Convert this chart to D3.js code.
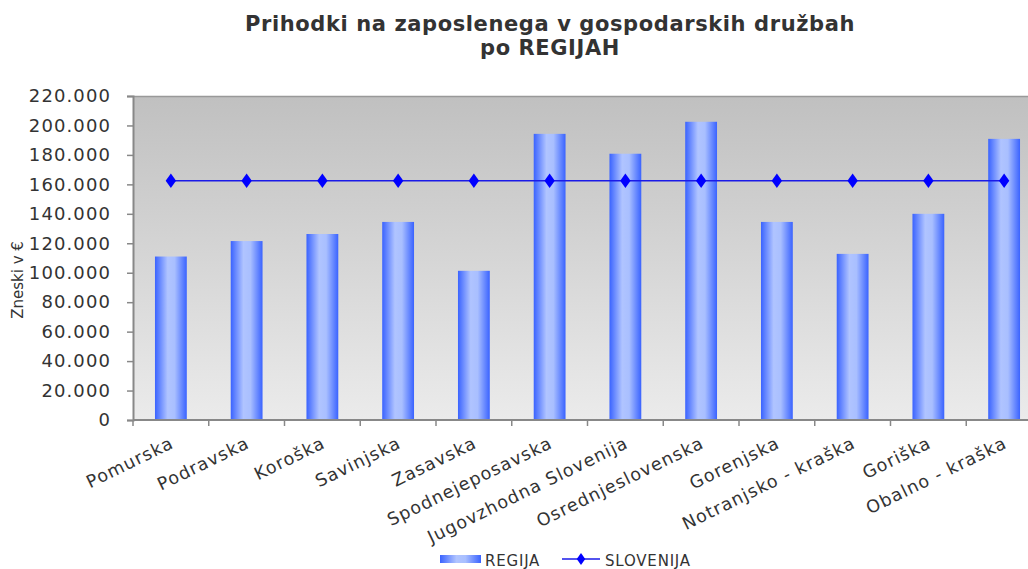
<!DOCTYPE html>
<html>
<head>
<meta charset="utf-8">
<script src="https://cdn.jsdelivr.net/npm/d3@7"></script>
<style>
  body { margin: 0; background: #fff; }
  svg { display: block; font-family: "DejaVu Sans", Verdana, sans-serif; }
</style>
</head>
<body>
<svg id="chart" width="1028" height="569"></svg>
<script>
// chart data
var regije = ['Pomurska', 'Podravska', 'Koroška', 'Savinjska', 'Zasavska', 'Spodnejeposavska',
    'Jugovzhodna Slovenija', 'Osrednjeslovenska', 'Gorenjska', 'Notranjsko - kraška', 'Goriška', 'Obalno - kraška'];
var regija = [111000, 121500, 126300, 134500, 101300, 194300, 180800, 202500, 134500, 112800, 140000, 190900];
var slovenija = [162500, 162500, 162500, 162500, 162500, 162500, 162500, 162500, 162500, 162500, 162500, 162500];
var yTicks = [0, 20000, 40000, 60000, 80000, 100000, 120000, 140000, 160000, 180000, 200000, 220000];

var svg = d3.select('#chart');
var pLeft = 133, pRight = 1042, pTop = 96, pBottom = 420;

var x = d3.scaleBand()
    .domain(regije)
    .range([pLeft, pRight])
    .paddingInner(0.58)
    .paddingOuter(0.29);

var y = d3.scaleLinear()
    .domain([0, 220000])
    .range([pBottom, pTop]);

var fmt = d3.formatLocale({ decimal: ',', thousands: '.', grouping: [3], currency: ['', ' €'] }).format(',d');

var defs = svg.append('defs');
var bg = defs.append('linearGradient').attr('id', 'bg')
    .attr('x1', 0).attr('y1', 0).attr('x2', 0).attr('y2', 1);
bg.append('stop').attr('offset', '0%').attr('stop-color', '#c0c0c0');
bg.append('stop').attr('offset', '100%').attr('stop-color', '#ebebeb');

var bar = defs.append('linearGradient').attr('id', 'bar')
    .attr('x1', 0).attr('y1', 0).attr('x2', 1).attr('y2', 0);
bar.append('stop').attr('offset', '0%').attr('stop-color', '#3a63ff');
bar.append('stop').attr('offset', '40%').attr('stop-color', '#b0c4ff');
bar.append('stop').attr('offset', '62%').attr('stop-color', '#a9bfff');
bar.append('stop').attr('offset', '100%').attr('stop-color', '#3a63ff');

// title
svg.append('text')
    .attr('x', 550).attr('y', 31)
    .attr('text-anchor', 'middle')
    .attr('font-size', 21).attr('font-weight', 'bold').attr('fill', '#333')
    .attr('letter-spacing', 0.6)
    .text('Prihodki na zaposlenega v gospodarskih družbah');
svg.append('text')
    .attr('x', 550).attr('y', 55)
    .attr('text-anchor', 'middle')
    .attr('font-size', 21).attr('font-weight', 'bold').attr('fill', '#333')
    .attr('letter-spacing', 0.6)
    .text('po REGIJAH');

// plot area
svg.append('rect')
    .attr('x', pLeft).attr('y', pTop)
    .attr('width', pRight - pLeft).attr('height', pBottom - pTop)
    .attr('fill', 'url(#bg)');
svg.append('line')
    .attr('x1', pLeft).attr('x2', pRight)
    .attr('y1', pTop + 0.5).attr('y2', pTop + 0.5)
    .attr('stroke', '#999').attr('stroke-width', 1.5);

// bars
svg.append('g').selectAll('rect')
    .data(regija)
    .join('rect')
    .attr('x', function(d, i) { return x(regije[i]); })
    .attr('y', function(d) { return y(d); })
    .attr('width', x.bandwidth())
    .attr('height', function(d) { return y(0) - y(d); })
    .attr('fill', 'url(#bar)');

// slovenija line
var cx = function(d, i) { return x(regije[i]) + x.bandwidth() / 2; };
var line = d3.line().x(cx).y(function(d) { return y(d); });
svg.append('path')
    .attr('d', line(slovenija))
    .attr('fill', 'none')
    .attr('stroke', '#1a1ae8')
    .attr('stroke-width', 1.6);
var diamond = d3.symbol().type(d3.symbolDiamond).size(60);
svg.append('g').selectAll('path')
    .data(slovenija)
    .join('path')
    .attr('d', diamond)
    .attr('transform', function(d, i) { return 'translate(' + cx(d, i) + ',' + y(d) + ') scale(1.25,1)'; })
    .attr('fill', '#0000ff');

// y axis
var yAxis = svg.append('g')
    .attr('transform', 'translate(' + pLeft + ',0)')
    .call(d3.axisLeft(y).tickValues(yTicks).tickFormat(fmt).tickSizeOuter(0).tickSize(6).tickPadding(16));
yAxis.select('.domain').attr('stroke', '#888').attr('stroke-width', 2);
yAxis.selectAll('.tick line').attr('stroke', '#888').attr('stroke-width', 1.5);
yAxis.selectAll('text').attr('font-size', 18).attr('fill', '#333')
    .attr('letter-spacing', 1.1)
    .attr('font-family', '"DejaVu Sans", Verdana, sans-serif');

svg.append('text')
    .attr('transform', 'translate(23,280) rotate(-90)')
    .attr('text-anchor', 'middle')
    .attr('font-size', 15).attr('fill', '#333')
    .text('Zneski v €');

// x axis
var step = x.step();
var xg = svg.append('g');
xg.append('line')
    .attr('x1', pLeft).attr('x2', pRight)
    .attr('y1', pBottom).attr('y2', pBottom)
    .attr('stroke', '#888').attr('stroke-width', 2);
xg.selectAll('line.tk')
    .data(d3.range(regije.length + 1))
    .join('line')
    .attr('class', 'tk')
    .attr('x1', function(i) { return pLeft + i * step; })
    .attr('x2', function(i) { return pLeft + i * step; })
    .attr('y1', pBottom).attr('y2', pBottom + 6)
    .attr('stroke', '#888').attr('stroke-width', 1.5);
xg.selectAll('text')
    .data(regije)
    .join('text')
    .attr('transform', function(d) {
        return 'translate(' + (x(d) + x.bandwidth() / 2 + 4) + ',' + (pBottom + 27) + ') rotate(-26)';
    })
    .attr('text-anchor', 'end')
    .attr('font-size', 17.5).attr('fill', '#333')
    .attr('letter-spacing', 1.1)
    .text(function(d) { return d; });

// legend
var lg = svg.append('g').attr('transform', 'translate(440,560)');
lg.append('rect').attr('x', 0).attr('y', -5).attr('width', 41).attr('height', 8).attr('fill', 'url(#bar)');
lg.append('text').attr('x', 45).attr('y', 6).attr('font-size', 15).attr('letter-spacing', 0.8)
    .attr('fill', '#333').text('REGIJA');
lg.append('line').attr('x1', 122).attr('x2', 160).attr('y1', -1).attr('y2', -1)
    .attr('stroke', '#1a1ae8').attr('stroke-width', 1.6);
lg.append('path').attr('d', d3.symbol().type(d3.symbolDiamond).size(40))
    .attr('transform', 'translate(141,-1) scale(1.25,1)').attr('fill', '#0000ff');
lg.append('text').attr('x', 165).attr('y', 6).attr('font-size', 15).attr('letter-spacing', 0.8)
    .attr('fill', '#333').text('SLOVENIJA');
</script>
</body>
</html>
